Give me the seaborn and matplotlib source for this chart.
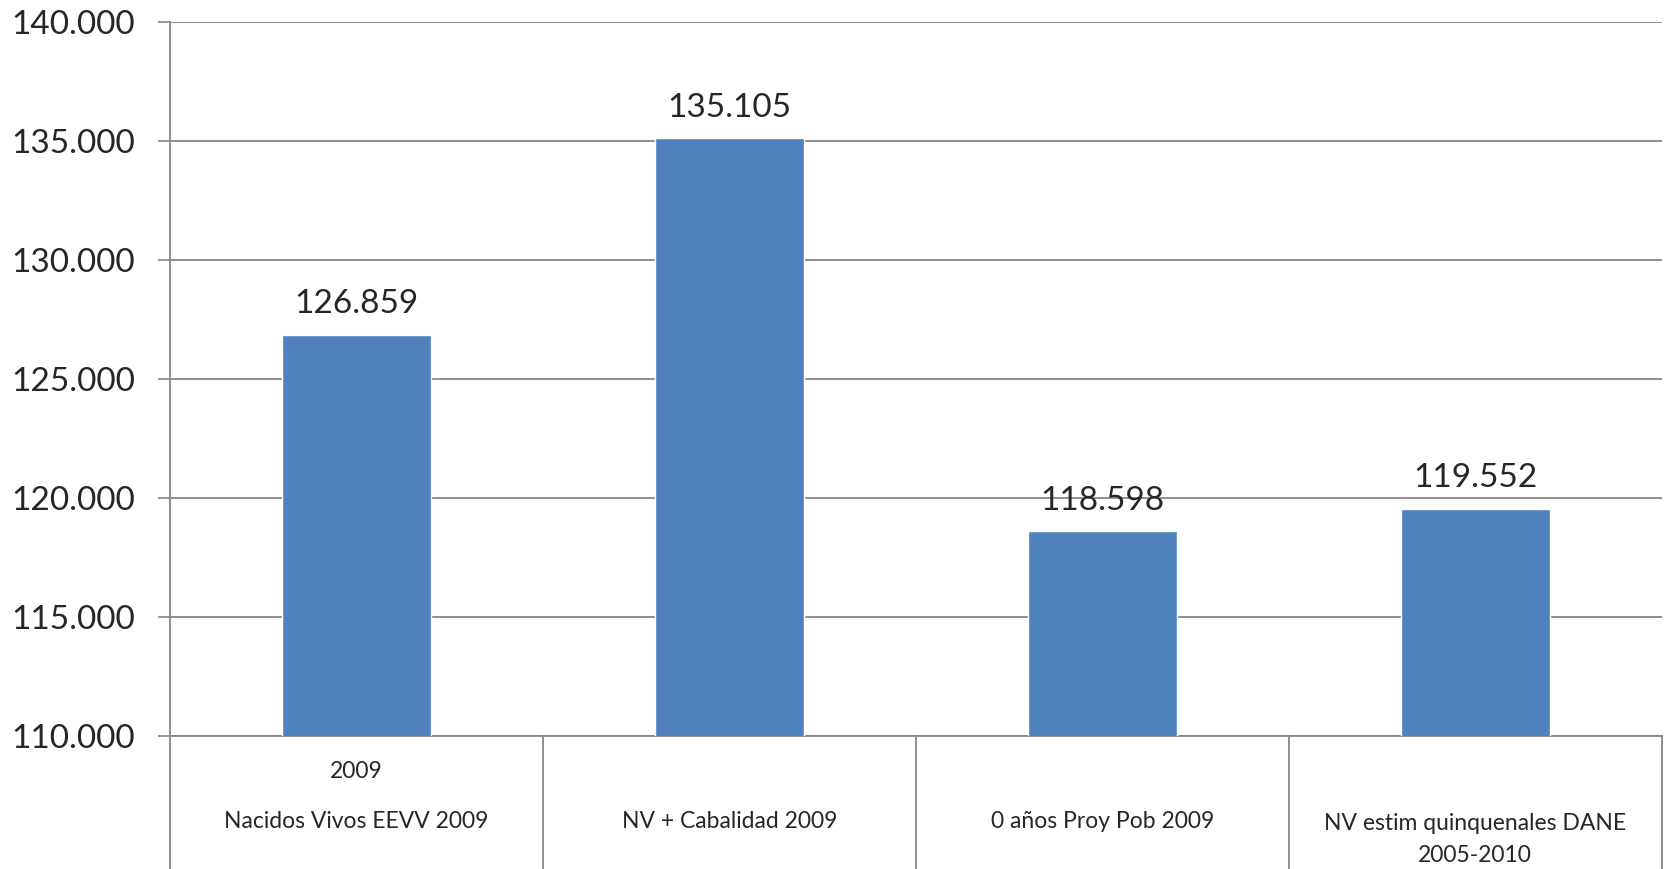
import matplotlib.pyplot as plt
import matplotlib.transforms as mtransforms
import pandas as pd
import seaborn as sns

categories = [
    "Nacidos Vivos EEVV 2009",
    "NV + Cabalidad 2009",
    "0 años Proy Pob 2009",
    "NV estim quinquenales DANE\n2005-2010",
]
values = [126859, 135105, 118598, 119552]
outer_labels = ["2009", "", "", ""]
y_ticks = [110000, 115000, 120000, 125000, 130000, 135000, 140000]

BAR_COLOR = "#4F81BD"
GRID_COLOR = "#868686"


def fmt_thousands(v: float) -> str:
    return f"{v:,.0f}".replace(",", ".")


sns.set_theme(style="white")
plt.rcParams["font.family"] = ["Lato", "DejaVu Sans"]

df = pd.DataFrame({"category": categories, "value": values})

fig = plt.figure(figsize=(16.65, 8.69), dpi=100)
ax = fig.add_axes([0.1021, 0.153, 0.8959, 0.8217])

sns.barplot(data=df, x="category", y="value", color=BAR_COLOR, width=0.4,
            saturation=1, ax=ax, zorder=3)

ax.set_xlim(-0.5, len(categories) - 0.5)
ax.set_ylim(y_ticks[0], y_ticks[-1])
ax.set_yticks(y_ticks)
ax.set_yticklabels([fmt_thousands(t) for t in y_ticks], fontsize=24)
ax.tick_params(axis="y", length=9, width=1.2, color=GRID_COLOR, pad=16, left=True)
ax.set_xticks([])
ax.set_xlabel("")
ax.set_ylabel("")

for t in y_ticks:
    ax.axhline(t, color=GRID_COLOR, lw=1.3, zorder=1)

for name in ["top", "right"]:
    ax.spines[name].set_visible(False)
ax.spines["left"].set_color(GRID_COLOR)
ax.spines["left"].set_linewidth(1.3)
ax.spines["bottom"].set_color(GRID_COLOR)
ax.spines["bottom"].set_linewidth(1.3)

# value labels above bars
for i, v in enumerate(values):
    ax.annotate(fmt_thousands(v), xy=(i, v), xytext=(0, 11), textcoords="offset points",
                ha="center", va="bottom", fontsize=24, zorder=4)

# category table below the axis
trans = mtransforms.blended_transform_factory(ax.transData, ax.transAxes)
for b in [x - 0.5 for x in range(len(categories) + 1)]:
    ax.plot([b, b], [0, -0.3], transform=trans, color=GRID_COLOR, lw=1.3,
            clip_on=False)

for i, (cat, outer) in enumerate(zip(categories, outer_labels)):
    if outer:
        ax.text(i, -0.049, outer, transform=trans, ha="center", va="center",
                fontsize=16.5)
    y = -0.145 if "\n" in cat else -0.119
    ax.text(i, y, cat, transform=trans, ha="center", va="center", fontsize=16.5,
            linespacing=1.65)

fig.savefig("out.png", dpi=100)
